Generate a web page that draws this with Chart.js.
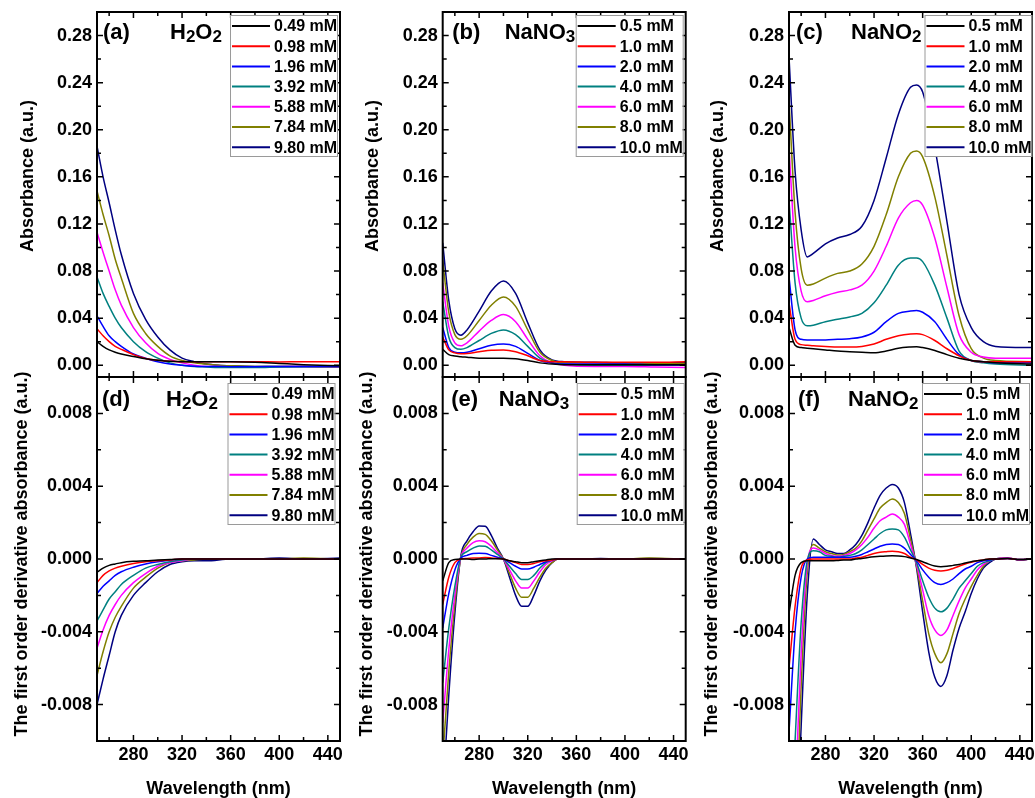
<!DOCTYPE html>
<html>
<head>
<meta charset="utf-8">
<script src="https://cdn.jsdelivr.net/npm/chart.js@4.4.0/dist/chart.umd.min.js"></script>
<style>
  html, body { margin: 0; padding: 0; background: #fff; overflow: hidden; }
  #wrap { position: relative; width: 1035px; height: 798px; }
  canvas { position: absolute; }
</style>
</head>
<body>
<div id="wrap">
  <canvas id="pa" width="345" height="380" style="left:0;top:0"></canvas>
  <canvas id="pb" width="345" height="380" style="left:345px;top:0"></canvas>
  <canvas id="pc" width="345" height="380" style="left:690px;top:0"></canvas>
  <canvas id="pd" width="345" height="440" style="left:0;top:360px"></canvas>
  <canvas id="pe" width="345" height="440" style="left:345px;top:360px"></canvas>
  <canvas id="pf" width="345" height="440" style="left:690px;top:360px"></canvas>
</div>
<script>
// legend labels and colours
const labelsH2O2 = ['0.49 mM', '0.98 mM', '1.96 mM', '3.92 mM', '5.88 mM', '7.84 mM', '9.80 mM'];
const labelsNa = ['0.5 mM', '1.0 mM', '2.0 mM', '4.0 mM', '6.0 mM', '8.0 mM', '10.0 mM'];
const seriesColors = ['#000000', '#ff0000', '#0000ff', '#008080', '#ff00ff', '#808000', '#000080'];

// tick values
const xTicks = [280, 320, 360, 400, 440];
const xMinor = [260, 300, 340, 380, 420];
const absTicks = [0, 0.04, 0.08, 0.12, 0.16, 0.20, 0.24, 0.28];
const absMinor = [0.02, 0.06, 0.10, 0.14, 0.18, 0.22, 0.26];
const derTicks = [-0.008, -0.004, 0, 0.004, 0.008];
const derMinor = [-0.006, -0.002, 0.002, 0.006];

// (a) H2O2 absorbance
const wlA = [250, 255, 260, 265, 270, 280, 290, 300, 310, 320, 330, 340, 350, 360, 380, 400, 420, 450];
const absH2O2 = [
  [.020, .016, .013, .011, .0095, .0075, .0055, .0042, .0033, .003, .003, .003, .003, .003, .0025, .0015, .0005, -.0005],
  [.031, .025, .020, .016, .0135, .009, .0058, .0042, .0033, .003, .003, .003, .003, .003, .003, .0028, .003, .003],
  [.042, .033, .025, .020, .016, .0095, .006, .003, .001, 0, -.0008, -.001, -.001, -.0012, -.0012, -.001, -.001, -.001],
  [.075, .061, .050, .040, .032, .020, .0115, .006, .002, 0, -.001, -.0015, -.002, -.002, -.002, -.0015, -.0012, -.001],
  [.113, .096, .080, .064, .051, .032, .019, .010, .005, .002, 0, -.001, -.001, -.0015, -.0015, -.0012, -.001, -.0012],
  [.148, .128, .110, .090, .074, .044, .027, .016, .008, .004, .002, .001, 0, -.0005, -.001, -.001, -.001, -.0015],
  [.186, .160, .138, .115, .094, .061, .039, .024, .013, .006, .003, .001, 0, -.0005, -.001, -.001, -.001, -.0015]
];

// (b) NaNO3 absorbance
const wlB = [250, 255, 260, 265, 270, 280, 290, 300, 310, 320, 330, 340, 350, 375, 400, 425, 450];
const absNaNO3 = [
  [.0135, .009, .0078, .0072, .0068, .006, .006, .006, .0055, .004, .002, .001, .0005, .0005, .0005, .0005, .0005],
  [.024, .013, .0105, .0098, .010, .0115, .0128, .013, .0115, .008, .004, .003, .003, .0025, .0025, .0025, .003],
  [.032, .015, .011, .0105, .011, .014, .017, .018, .016, .010, .004, .002, .001, .001, .001, .0005, .0005],
  [.054, .024, .015, .0135, .015, .021, .027, .030, .026, .016, .006, .002, .001, 0, 0, 0, 0],
  [.070, .033, .019, .0165, .019, .029, .038, .043, .037, .022, .008, .002, 0, -.001, -.001, -.0015, -.002],
  [.089, .045, .026, .022, .025, .038, .051, .058, .050, .030, .011, .004, .002, .002, .0015, .0015, .0015],
  [.104, .055, .031, .0255, .030, .046, .063, .0715, .061, .036, .013, .0045, .003, .0025, .002, .002, .002]
];

// (c) NaNO2 absorbance
const wlC = [250, 255, 260, 265, 270, 280, 290, 300, 310, 320, 330, 340, 350, 355, 360, 370, 380, 390, 400, 410, 420, 450];
const absNaNO2 = [
  [.032, .017, .015, .0145, .014, .013, .012, .0115, .011, .0105, .012, .0145, .0155, .0157, .015, .0125, .009, .006, .004, .003, .002, .001],
  [.053, .022, .0175, .017, .0165, .016, .0155, .0155, .016, .018, .022, .025, .0265, .0267, .026, .021, .014, .008, .004, .003, .003, .003],
  [.075, .030, .022, .0215, .0215, .0215, .022, .0225, .024, .028, .037, .044, .046, .0465, .045, .037, .022, .009, .004, .003, .002, .002],
  [.140, .070, .040, .0335, .034, .037, .039, .041, .044, .053, .068, .085, .091, .091, .088, .068, .040, .012, .004, .002, .001, 0],
  [.185, .100, .063, .054, .055, .059, .062, .064, .068, .080, .101, .125, .138, .140, .136, .108, .066, .026, .011, .007, .006, .006],
  [.225, .130, .082, .068, .069, .074, .078, .080, .086, .101, .128, .160, .180, .182, .177, .143, .093, .042, .014, .006, .004, .003],
  [.262, .165, .115, .092, .095, .103, .108, .111, .118, .140, .176, .213, .236, .238, .232, .185, .122, .060, .032, .020, .016, .015]
];

// (d) H2O2 first derivative
const wlD = [250, 255, 260, 265, 270, 280, 290, 300, 310, 320, 330, 340, 360, 380, 400, 420, 450];
const derH2O2 = [
  [-.00073, -.0005, -.00035, -.00027, -.0002, -.00013, -.0001, -.00005, -.00003, 0, 0, 0, 0, 0, 0, 0, 0],
  [-.0013, -.0009, -.00065, -.0005, -.0004, -.00025, -.00015, -.0001, -.00005, 0, 0, 0, 0, 0, 0, 0, 0],
  [-.0019, -.0015, -.0012, -.0009, -.0007, -.00045, -.00027, -.00015, -.00007, 0, 0, 0, 0, 0, 0, 0, 0],
  [-.0034, -.0028, -.0022, -.0018, -.0014, -.0009, -.0005, -.0003, -.00015, -.00005, 0, 0, 0, 0, 0, 0, 0],
  [-.0049, -.0039, -.0031, -.0025, -.0020, -.0013, -.0008, -.0004, -.0002, -.0001, 0, 0, 0, 0, 0, 0, 0],
  [-.0064, -.0051, -.0040, -.0032, -.0026, -.0016, -.0010, -.0005, -.0002, -.0001, -.00005, 0, 0, 0, 0, .00005, 0],
  [-.0080, -.0066, -.0053, -.0040, -.0031, -.0020, -.0013, -.0007, -.0003, -.00015, -.0001, -.0001, 0, 0, .00005, 0, .00005]
];

// (e) NaNO3 first derivative
const wlE = [250, 255, 260, 265, 270, 275, 280, 285, 290, 295, 300, 305, 310, 315, 320, 325, 330, 335, 340, 345, 350, 360, 380, 400, 420, 450];
const derNaNO3 = [
  [-.0012, -.0002, -.00003, 0, 0, -.00003, 0, 0, .00002, .00002, 0, -.0001, -.00015, -.0002, -.0002, -.00015, -.0001, -.00005, 0, 0, 0, 0, 0, 0, 0, 0],
  [-.0025, -.0010, -.0002, 0, .00003, .00005, .00006, .00008, .00006, .00003, 0, -.0001, -.0002, -.0003, -.0003, -.00025, -.00015, -.0001, -.00005, 0, 0, 0, 0, 0, 0, 0],
  [-.0038, -.0019, -.0006, .00005, .0002, .0003, .00031, .0003, .0002, .0001, 0, -.0002, -.0004, -.00055, -.00055, -.00045, -.0003, -.00015, -.00005, 0, 0, 0, 0, 0, 0, 0],
  [-.0068, -.0038, -.0015, .0001, .0004, .0006, .00072, .0007, .0005, .00025, 0, -.0004, -.0008, -.00112, -.00112, -.0009, -.0005, -.0002, -.00005, 0, 0, 0, 0, 0, 0, 0],
  [-.0090, -.0050, -.0020, .0001, .0006, .0009, .0010, .00095, .0007, .00035, 0, -.0006, -.0012, -.0016, -.0016, -.0012, -.0007, -.0003, -.0001, 0, 0, 0, 0, 0, 0, 0],
  [-.0110, -.0062, -.0025, .0001, .0008, .0012, .0014, .00135, .0010, .0005, 0, -.0008, -.0016, -.0021, -.0021, -.0016, -.0010, -.0005, -.0002, 0, 0, 0, 0, 0, .00005, 0],
  [-.0130, -.0075, -.0030, .0002, .0010, .0015, .00182, .0018, .0013, .0006, 0, -.0010, -.0020, -.0026, -.0026, -.0020, -.0012, -.0006, -.0002, 0, 0, 0, .00003, 0, .00003, 0]
];

// (f) NaNO2 first derivative
const wlF = [250, 255, 260, 265, 270, 275, 280, 285, 290, 295, 300, 305, 310, 315, 320, 325, 330, 335, 340, 345,
             350, 355, 360, 365, 370, 375, 380, 385, 390, 395, 400, 405, 410, 415, 420, 430, 440, 450];
const derNaNO2 = [
  [-.003, -.0009, -.0002, -.0001, -.0001, -.0001, -.0001, -.0001, -.00008, -.00005,
   -.00005, 0, .00003, .00008, .00012, .00015, .00017, .00018, .00017, .00013,
   .00005, -.00003, -.00015, -.00028, -.00038, -.00042, -.0004, -.00035, -.0003, -.00022,
   -.00015, -.0001, -.00005, 0, 0, .00003, -.00003, 0],
  [-.006, -.0026, -.0005, -.00005, 0, 0, 0, 0, 0, 0,
   0, .00005, .0001, .0002, .0003, .00037, .0004, .00042, .0004, .0003,
   .0001, -.00005, -.0003, -.0005, -.00062, -.00066, -.00062, -.00052, -.0004, -.00027,
   -.00018, -.0001, -.00005, 0, 0, .00003, -.00003, 0],
  [-.0095, -.0040, -.0010, 0, .0001, .0001, .0001, .0001, .0001, .0001,
   .0001, .00015, .00025, .0004, .00055, .0007, .0008, .00082, .0008, .0006,
   .00025, -.0001, -.0006, -.0010, -.0013, -.0014, -.0013, -.0011, -.0008, -.00055,
   -.0004, -.0002, -.0001, -.00005, 0, .00003, -.00003, 0],
  [-.017, -.010, -.0035, -.0001, .00045, .0004, .0002, .00015, .0001, .00015,
   .0002, .0003, .0005, .0008, .0011, .0014, .0016, .00165, .0016, .0012,
   .0005, -.0002, -.0012, -.0021, -.0027, -.0029, -.0027, -.0022, -.0016, -.0012,
   -.0008, -.0004, -.0002, -.0001, 0, .00003, -.00003, 0],
  [-.018, -.013, -.0052, -.0003, .0006, .0005, .0003, .0002, .00015, .0002,
   .0003, .0005, .0008, .0012, .0017, .0021, .0023, .00247, .0023, .0019,
   .0008, -.0003, -.0017, -.0031, -.0039, -.0042, -.0039, -.0031, -.0023, -.0016,
   -.0011, -.0006, -.0003, -.0001, 0, .00005, -.00005, 0],
  [-.020, -.016, -.0070, -.0008, .0008, .0006, .0004, .0003, .00022, .00025,
   .0004, .0006, .0010, .0016, .0022, .0028, .0031, .0033, .0031, .0025,
   .0011, -.0004, -.0023, -.0041, -.0052, -.0057, -.0052, -.0041, -.0030, -.0022,
   -.0015, -.0009, -.0004, -.0001, 0, .00005, -.00005, 0],
  [-.022, -.018, -.0092, -.0020, .0011, .0008, .0005, .0004, .0003, .0003,
   .0005, .0008, .0013, .0020, .0028, .0035, .0039, .0041, .0039, .0031,
   .0014, -.0005, -.0029, -.0051, -.0065, -.0070, -.0064, -.0050, -.0038, -.0029,
   -.0019, -.0011, -.0005, -.0002, 0, .00005, -.00005, 0]
];

const FONT = '"Liberation Sans", Arial, Helvetica, sans-serif';
const tickFont = { family: FONT, size: 18, weight: 'bold' };

function drawChem(ctx, parts, x, y) {
  parts.forEach(([txt, sub]) => {
    ctx.font = sub ? 'bold 17px ' + FONT : 'bold 22px ' + FONT;
    ctx.fillText(txt, x, sub ? y + 3 : y);
    x += ctx.measureText(txt).width;
  });
}

function makeDeco(p) {
  return {
    id: 'deco',
    afterDatasetsDraw(chart) {
      const { ctx, chartArea: a, scales: { x, y } } = chart;
      ctx.save();
      ctx.strokeStyle = '#000';
      ctx.lineWidth = 1.5;
      // inward ticks on all four sides
      const xt = (vals, len) => vals.forEach(v => {
        const px = x.getPixelForValue(v);
        ctx.beginPath();
        ctx.moveTo(px, a.bottom); ctx.lineTo(px, a.bottom - len);
        ctx.moveTo(px, a.top); ctx.lineTo(px, a.top + len);
        ctx.stroke();
      });
      const yt = (vals, len) => vals.forEach(v => {
        const py = y.getPixelForValue(v);
        ctx.beginPath();
        ctx.moveTo(a.left, py); ctx.lineTo(a.left + len, py);
        ctx.moveTo(a.right, py); ctx.lineTo(a.right - len, py);
        ctx.stroke();
      });
      xt(xTicks, 6); xt(xMinor, 4);
      yt(p.yTicks, 6); yt(p.yMinor, 4);
      ctx.lineWidth = 2;
      ctx.strokeRect(a.left, a.top, a.right - a.left, a.bottom - a.top);

      // legend box
      const lw = 107, lh = 141;
      const lx = a.right - p.legDx - lw, ly = a.top + p.legDy;
      ctx.fillStyle = '#fff';
      ctx.fillRect(lx, ly, lw, lh);
      ctx.strokeStyle = '#9a9a9a';
      ctx.lineWidth = 1;
      ctx.strokeRect(lx + 0.5, ly + 0.5, lw, lh);
      ctx.font = 'bold 16px ' + FONT;
      ctx.textBaseline = 'middle';
      ctx.textAlign = 'left';
      chart.data.datasets.forEach((ds, i) => {
        const ry = ly + 11 + i * 20.2;
        ctx.strokeStyle = ds.borderColor;
        ctx.lineWidth = 2;
        ctx.beginPath(); ctx.moveTo(lx + 2, ry); ctx.lineTo(lx + 40, ry); ctx.stroke();
        ctx.fillStyle = '#000';
        ctx.fillText(ds.label, lx + 44, ry + 1);
      });

      // panel tag and compound
      ctx.textBaseline = 'alphabetic';
      ctx.fillStyle = '#000';
      ctx.font = 'bold 22px ' + FONT;
      ctx.fillText(p.tag, a.left + p.tagX, a.top + p.textY);
      drawChem(ctx, p.chem, a.left + p.chemX, a.top + p.textY);

      // y axis title
      ctx.font = 'bold 18px ' + FONT;
      ctx.textAlign = 'center';
      ctx.textBaseline = 'middle';
      ctx.translate(p.yTitleX, a.top + p.yTitleY);
      ctx.rotate(-Math.PI / 2);
      ctx.fillText(p.yTitle, 0, 0);
      ctx.restore();
    }
  };
}

function makePanel(id, p) {
  const datasets = p.series.map((ys, i) => ({
    label: p.labels[i],
    data: ys.map((v, j) => ({ x: p.xs[j], y: v })),
    borderColor: seriesColors[i],
    borderWidth: 1.5,
    pointRadius: 0,
    fill: false,
    cubicInterpolationMode: 'monotone'
  }));
  new Chart(document.getElementById(id), {
    type: 'line',
    data: { datasets },
    options: {
      responsive: false,
      animation: false,
      events: [],
      layout: { padding: { top: p.padTop, right: p.padRight, left: 0, bottom: 0 } },
      plugins: { legend: { display: false }, tooltip: { enabled: false } },
      scales: {
        x: {
          type: 'linear', min: 250, max: 450,
          grid: { display: false, drawTicks: false },
          border: { display: false },
          ticks: { display: p.showX, autoSkip: false, maxRotation: 0, padding: 3, color: '#000', font: tickFont },
          afterBuildTicks: s => { s.ticks = xTicks.map(v => ({ value: v })); },
          afterFit: s => { s.height = p.xAxisH; s.paddingLeft = 0; s.paddingRight = 0; },
          title: { display: p.showX, text: 'Wavelength (nm)', color: '#000', font: tickFont, padding: { top: 0, bottom: 0 } }
        },
        y: {
          type: 'linear', min: p.yMin, max: p.yMax,
          grid: { display: false, drawTicks: false },
          border: { display: false },
          ticks: { autoSkip: false, padding: 5, color: '#000', font: tickFont, callback: v => v.toFixed(p.digits) },
          afterBuildTicks: s => { s.ticks = p.yTicks.map(v => ({ value: v })); },
          afterFit: s => { s.width = p.yAxisW; s.paddingTop = 0; s.paddingBottom = 0; }
        }
      }
    },
    plugins: [makeDeco(p)]
  });
}

const topRow = { yMin: -0.01, yMax: 0.30, yTicks: absTicks, yMinor: absMinor, digits: 2, padTop: 12, xAxisH: 3, showX: false,
  yTitle: 'Absorbance (a.u.)', yTitleX: 28, yTitleY: 164, textY: 27, legDy: 3 };
const botRow = { yMin: -0.01, yMax: 0.01, yTicks: derTicks, yMinor: derMinor, digits: 3, padTop: 17, xAxisH: 59, showX: true,
  yTitle: 'The first order derivative absorbance (a.u.)', yTitleX: 22.5, yTitleY: 177, textY: 29, legDy: 6 };

const H2O2 = [['H', 0], ['2', 1], ['O', 0], ['2', 1]];
const NaNO3 = [['NaNO', 0], ['3', 1]];
const NaNO2 = [['NaNO', 0], ['2', 1]];

makePanel('pa', Object.assign({}, topRow, { xs: wlA, series: absH2O2, labels: labelsH2O2, yAxisW: 97, padRight: 5,
  tag: '(a)', tagX: 6, chem: H2O2, chemX: 73, legDx: 3 }));
makePanel('pb', Object.assign({}, topRow, { xs: wlB, series: absNaNO3, labels: labelsNa, yAxisW: 97.7, padRight: 4.3,
  tag: '(b)', tagX: 9.5, chem: NaNO3, chemX: 62, legDx: 3 }));
makePanel('pc', Object.assign({}, topRow, { xs: wlC, series: absNaNO2, labels: labelsNa, yAxisW: 99, padRight: 3,
  tag: '(c)', tagX: 7, chem: NaNO2, chemX: 62, legDx: 0.5 }));
makePanel('pd', Object.assign({}, botRow, { xs: wlD, series: derH2O2, labels: labelsH2O2, yAxisW: 97, padRight: 5,
  tag: '(d)', tagX: 5, chem: H2O2, chemX: 69, legDx: 5.5 }));
makePanel('pe', Object.assign({}, botRow, { xs: wlE, series: derNaNO3, labels: labelsNa, yAxisW: 97.7, padRight: 4.3,
  tag: '(e)', tagX: 8.5, chem: NaNO3, chemX: 56, legDx: 2 }));
makePanel('pf', Object.assign({}, botRow, { xs: wlF, series: derNaNO2, labels: labelsNa, yAxisW: 99, padRight: 3,
  tag: '(f)', tagX: 9, chem: NaNO2, chemX: 59, legDx: 3 }));
</script>
</body>
</html>
